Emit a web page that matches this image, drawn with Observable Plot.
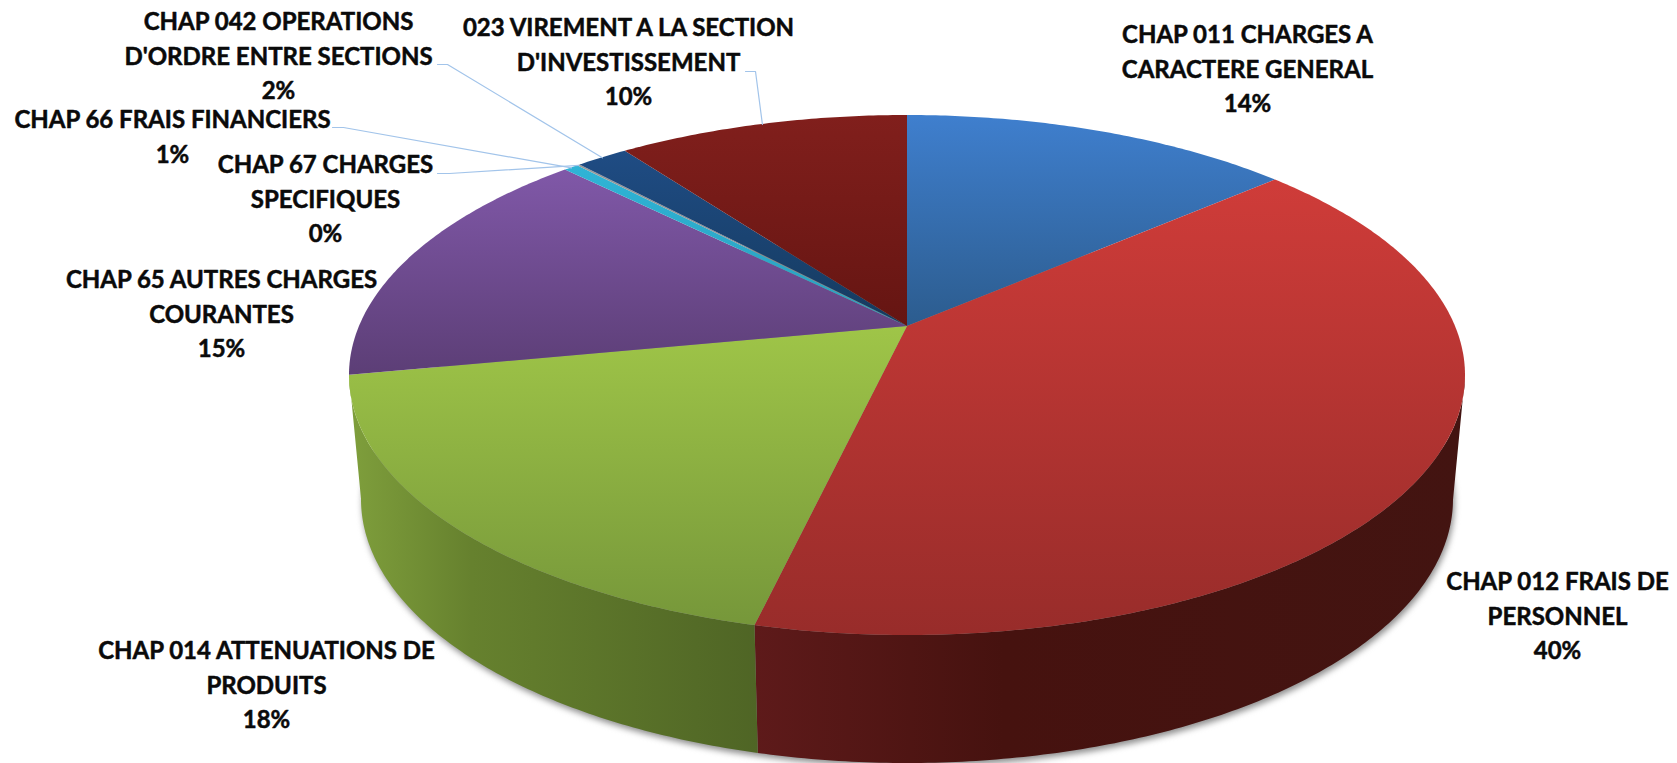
<!DOCTYPE html>
<html><head><meta charset="utf-8">
<style>html,body{margin:0;padding:0;background:#fff;overflow:hidden}svg{display:block}</style>
<script src="https://cdn.jsdelivr.net/npm/d3@7"></script>
<script src="https://cdn.jsdelivr.net/npm/@observablehq/plot@0.6"></script>
</head><body><script>
const categories = ["CHAP 011 CHARGES A\nCARACTERE GENERAL","CHAP 012 FRAIS DE\nPERSONNEL","CHAP 014 ATTENUATIONS DE\nPRODUITS","CHAP 65 AUTRES CHARGES\nCOURANTES","CHAP 66 FRAIS FINANCIERS","CHAP 67 CHARGES\nSPECIFIQUES","CHAP 042 OPERATIONS\nD'ORDRE ENTRE SECTIONS","023 VIREMENT A LA SECTION\nD'INVESTISSEMENT"];
const values = [13.6,40.05,18.35,15.5,0.5,0.1,1.8,10.1];
const percentLabels = ["14%","40%","18%","15%","1%","0%","2%","10%"];
const faceTop = ["#3f7fce","#cf3c39","#9fc548","#8058a8","#2fb4d6","#9a9a9a","#1f4c84","#811f1c"];
const faceBottom = ["#2c5c8e","#982c2a","#76973a","#5c3e76","#2a9fbd","#7d7d7d","#153a5e","#651512"];
const sideStops = {1:[["0%","#5e1a1a"],["35%","#46120f"],["100%","#431411"]],2:[["0%","#7f9f3c"],["30%","#66812e"],["100%","#4f6525"]]};

// layout of the drawing
const W = 1677, H = 763;
const top3d = {cx:907, cy:375, rx:558, ry:260};
const bottom3d = {cx:907, cy:499, rx:546, ry:264};
const persp = 0.188;
const labelAt = [[1247,66],[1557,613],[266,682],[221,311],[172,134],[325,196],[278,53],[628,59]];
const leaderRoutes = {4:[[332,127],[343,127]],5:[[437,173],[449,173]],6:[[437,64],[447,64]],7:[[745,71],[755,71]]};

const total = d3.sum(values);
const cum = d3.cumsum(values);
const toDisk = th => { const d = 1 + persp*Math.cos(th);
  return {s: Math.sin(th)*Math.sqrt(1-persp*persp)/d, t:(Math.cos(th)+persp)/d}; };
const onE = (e,p) => [e.cx+e.rx*p.s, e.cy-e.ry*p.t];
const apex = onE(top3d,{s:0,t:persp});
const arc = (f0,f1) => { const n = Math.max(2,Math.ceil((f1-f0)*6)), out=[];
  for (let i=0;i<=n;i++) out.push(toDisk((f0+(f1-f0)*i/n)/total*2*Math.PI));
  return out; };

const slices = values.map((v,i)=>{ const f1=cum[i], f0=f1-v; return {i,f0,f1,pts:arc(f0,f1)}; });

const defs = d3.create("svg:defs");
slices.forEach(({i})=>{
  const g = defs.append("linearGradient").attr("id","face"+i).attr("x1",0).attr("y1",0).attr("x2",0).attr("y2",1);
  g.append("stop").attr("offset","0%").attr("stop-color",faceTop[i]);
  g.append("stop").attr("offset","100%").attr("stop-color",faceBottom[i]);
});
Object.entries(sideStops).forEach(([i,stops])=>{
  const g = defs.append("linearGradient").attr("id","side"+i);
  if (i==="1") g.attr("x1",0).attr("x2",1);
  stops.forEach(([o,c])=>g.append("stop").attr("offset",o).attr("stop-color",c));
});

const ellipse = d3.range(0,361,2).map(a=>toDisk(a*Math.PI/180));
const marks = [
  () => defs.node(),
  // soft shadow beneath the disk
  Plot.line(ellipse.concat([ellipse[0]]),{x:p=>onE(bottom3d,p)[0]+1,y:p=>onE(bottom3d,p)[1],fill:"#8d8d8d",stroke:"none",dy:3,imageFilter:"blur(3px)"})
];
// walls: the part of each slice on the near side of the rim
slices.forEach(({i,pts})=>{
  const wall = pts.filter(p=>p.t<=0.005);
  if (wall.length<2) return;
  marks.push(Plot.area(wall,{
    x1:p=>onE(top3d,p)[0], y1:p=>onE(top3d,p)[1],
    x2:p=>onE(bottom3d,p)[0], y2:p=>onE(bottom3d,p)[1],
    fill:`url(#side${i})`}));
});
// top faces
slices.forEach(({i,pts})=>{
  marks.push(Plot.area(pts,{
    x1:()=>apex[0], y1:()=>apex[1],
    x2:p=>onE(top3d,p)[0], y2:p=>onE(top3d,p)[1],
    fill:`url(#face${i})`}));
});
// leader lines
Object.entries(leaderRoutes).forEach(([k,route])=>{
  const i=+k, mid=toDisk(((slices[i].f0+slices[i].f1)/2)/total*2*Math.PI), end=onE(top3d,mid);
  marks.push(Plot.line([...route,end],{x:d=>d[0],y:d=>d[1],stroke:"#a2c4ea",strokeWidth:1.2}));
});
// labels
marks.push(Plot.text(categories.map((c,i)=>({t:c+"\n"+percentLabels[i],p:labelAt[i]})),{
  x:d=>d.p[0],y:d=>d.p[1],text:"t",fontFamily:"Lato",fontWeight:700,fontSize:24,lineHeight:34.5/24,
  fill:"#0a0a0a",stroke:"#0a0a0a",strokeWidth:0.5,textAnchor:"middle",lineAnchor:"middle"}));

document.body.append(Plot.plot({
  width:W,height:H,margin:0,
  x:{domain:[0,W],range:[0,W],axis:null},
  y:{domain:[0,H],range:[0,H],axis:null},
  style:{background:"#fff"},
  marks
}));
</script></body></html>
